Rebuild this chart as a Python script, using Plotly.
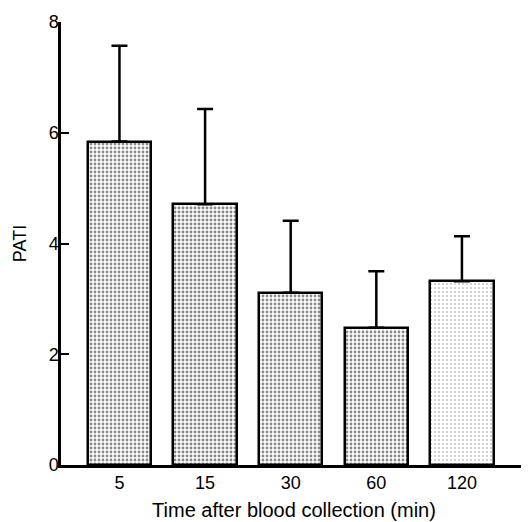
import plotly.graph_objects as go

categories = ["5", "15", "30", "60", "120"]
means = [5.84, 4.71, 3.11, 2.48, 3.32]
upper = [7.57, 6.43, 4.41, 3.50, 4.13]
y_ticks = [0, 2, 4, 6, 8]

positions = list(range(len(categories)))
err_plus = [u - m for u, m in zip(upper, means)]

fig = go.Figure()
fig.add_trace(go.Bar(
    x=positions,
    y=means,
    width=0.74,
    marker=dict(
        color="white",
        line=dict(color="black", width=2.5),
        pattern=dict(
            shape=".",
            fgcolor="#111111",
            bgcolor="white",
            size=4,
            solidity=[0.4, 0.42, 0.4, 0.38, 0.1],
        ),
    ),
    error_y=dict(
        type="data",
        symmetric=False,
        array=err_plus,
        arrayminus=[0] * len(means),
        color="black",
        thickness=2.5,
        width=8,
    ),
    showlegend=False,
))

fig.update_layout(
    width=521,
    height=514,
    margin=dict(l=53, r=2, t=14, b=57),
    paper_bgcolor="white",
    plot_bgcolor="white",
    font=dict(family="Liberation Sans, Arial, sans-serif", size=18, color="black"),
    bargap=0,
)
fig.update_xaxes(
    range=[-0.683, 4.76],
    tickvals=positions,
    ticktext=categories,
    tickfont=dict(size=18),
    showline=True,
    linecolor="black",
    linewidth=2.5,
    ticks="",
    showgrid=False,
    zeroline=False,
    title=dict(text="Time after blood collection (min)", standoff=11, font=dict(size=20)),
)
fig.update_yaxes(
    range=[0, 8],
    tickvals=y_ticks,
    tickfont=dict(size=18),
    ticklabelstandoff=-4,
    showline=True,
    linecolor="black",
    linewidth=2.5,
    ticks="inside",
    ticklen=8,
    tickwidth=2,
    tickcolor="black",
    showgrid=False,
    zeroline=False,
    title=dict(text="PATI", standoff=18, font=dict(size=18)),
)

fig.write_html("out.html")
